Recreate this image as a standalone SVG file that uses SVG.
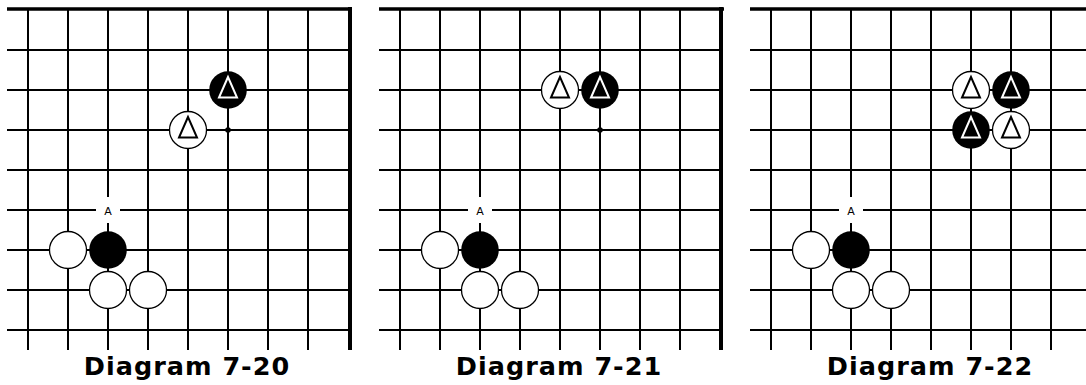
<svg xmlns="http://www.w3.org/2000/svg" width="1086" height="385" viewBox="0 0 1086 385">
<style>
.ln{stroke:#000;stroke-width:2}
.edge{stroke:#000;stroke-width:4}
.top{stroke:#000;stroke-width:3.5}
.w{fill:#fff;stroke:#000;stroke-width:1.3}
.b{fill:#000}
.tw{fill:none;stroke:#000;stroke-width:2}
.tb{fill:none;stroke:#fff;stroke-width:2}
.lbl{font-family:"DejaVu Sans","Liberation Sans",sans-serif;font-size:11px;text-anchor:middle}
.cap{font-family:"DejaVu Sans","Liberation Sans",sans-serif;font-size:25.5px;font-weight:bold;letter-spacing:1px;text-anchor:middle}
</style>
<defs>
<g id="grid">
<line class="top" x1="7" y1="9" x2="352" y2="9"/>
<line class="ln" x1="7" y1="50" x2="350" y2="50"/>
<line class="ln" x1="7" y1="90" x2="350" y2="90"/>
<line class="ln" x1="7" y1="130" x2="350" y2="130"/>
<line class="ln" x1="7" y1="170" x2="350" y2="170"/>
<line class="ln" x1="7" y1="210" x2="350" y2="210"/>
<line class="ln" x1="7" y1="250" x2="350" y2="250"/>
<line class="ln" x1="7" y1="290" x2="350" y2="290"/>
<line class="ln" x1="7" y1="330" x2="350" y2="330"/>
<line class="ln" x1="28" y1="9" x2="28" y2="350"/>
<line class="ln" x1="68" y1="9" x2="68" y2="350"/>
<line class="ln" x1="108" y1="9" x2="108" y2="350"/>
<line class="ln" x1="148" y1="9" x2="148" y2="350"/>
<line class="ln" x1="188" y1="9" x2="188" y2="350"/>
<line class="ln" x1="228" y1="9" x2="228" y2="350"/>
<line class="ln" x1="268" y1="9" x2="268" y2="350"/>
<line class="ln" x1="308" y1="9" x2="308" y2="350"/>
</g>
<polygon id="tri" points="0,-13 -9,7.5 9,7.5"/>
</defs>

<!-- Panel 1 -->
<g id="diagram-7-20">
<g id="board-1">
<use href="#grid"/>
<line class="edge" x1="350" y1="7" x2="350" y2="350"/>
</g>
<g id="p1-mark-A"><rect x="96" y="197" width="24" height="26" fill="#fff"/><text class="lbl" x="108" y="214.5">A</text></g>
<g id="p1-dot"><circle cx="228" cy="130" r="2.8" fill="#000"/></g>
<g id="p1-b-tri"><circle class="b" cx="228" cy="90" r="18.8"/><use href="#tri" class="tb" x="228" y="90"/></g>
<g id="p1-w-tri"><circle class="w" cx="188" cy="130" r="18.5"/><use href="#tri" class="tw" x="188" y="130"/></g>
<g id="p1-w1"><circle class="w" cx="68" cy="250" r="18.5"/></g>
<g id="p1-b1"><circle class="b" cx="108" cy="250" r="18.8"/></g>
<g id="p1-w2"><circle class="w" cx="108" cy="290" r="18.5"/></g>
<g id="p1-w3"><circle class="w" cx="148" cy="290" r="18.5"/></g>
<text class="cap" x="187" y="375">Diagram 7-20</text>
</g>

<!-- Panel 2 -->
<g id="diagram-7-21" transform="translate(372,0)">
<g id="board-2">
<use href="#grid"/>
<line class="edge" x1="349" y1="7" x2="349" y2="350"/>
</g>
<g id="p2-mark-A"><rect x="96" y="197" width="24" height="26" fill="#fff"/><text class="lbl" x="108" y="214.5">A</text></g>
<g id="p2-dot"><circle cx="228" cy="130" r="2.8" fill="#000"/></g>
<g id="p2-w-tri"><circle class="w" cx="188" cy="90" r="18.5"/><use href="#tri" class="tw" x="188" y="90"/></g>
<g id="p2-b-tri"><circle class="b" cx="228" cy="90" r="18.8"/><use href="#tri" class="tb" x="228" y="90"/></g>
<g id="p2-w1"><circle class="w" cx="68" cy="250" r="18.5"/></g>
<g id="p2-b1"><circle class="b" cx="108" cy="250" r="18.8"/></g>
<g id="p2-w2"><circle class="w" cx="108" cy="290" r="18.5"/></g>
<g id="p2-w3"><circle class="w" cx="148" cy="290" r="18.5"/></g>
<text class="cap" x="187" y="375">Diagram 7-21</text>
</g>

<!-- Panel 3 -->
<g id="diagram-7-22" transform="translate(743,0)">
<g id="board-3">
<use href="#grid"/>
</g>
<g id="p3-mark-A"><rect x="96" y="197" width="24" height="26" fill="#fff"/><text class="lbl" x="108" y="214.5">A</text></g>
<g id="p3-w-tri1"><circle class="w" cx="228" cy="90" r="18.5"/><use href="#tri" class="tw" x="228" y="90"/></g>
<g id="p3-b-tri1"><circle class="b" cx="268" cy="90" r="18.8"/><use href="#tri" class="tb" x="268" y="90"/></g>
<g id="p3-b-tri2"><circle class="b" cx="228" cy="130" r="18.8"/><use href="#tri" class="tb" x="228" y="130"/></g>
<g id="p3-w-tri2"><circle class="w" cx="268" cy="130" r="18.5"/><use href="#tri" class="tw" x="268" y="130"/></g>
<g id="p3-w1"><circle class="w" cx="68" cy="250" r="18.5"/></g>
<g id="p3-b1"><circle class="b" cx="108" cy="250" r="18.8"/></g>
<g id="p3-w2"><circle class="w" cx="108" cy="290" r="18.5"/></g>
<g id="p3-w3"><circle class="w" cx="148" cy="290" r="18.5"/></g>
<text class="cap" x="187" y="375">Diagram 7-22</text>
</g>
</svg>
